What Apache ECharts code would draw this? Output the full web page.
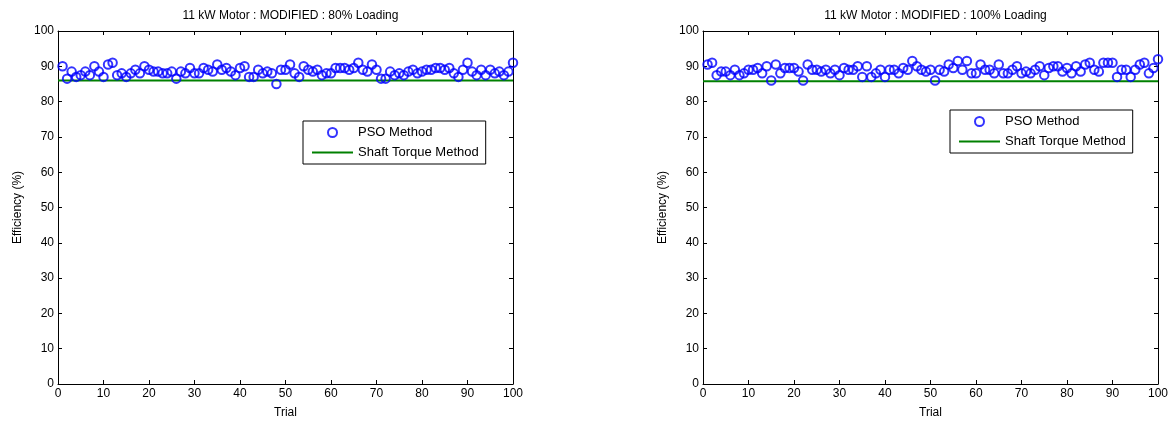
<!DOCTYPE html>
<html><head><meta charset="utf-8">
<script src="https://cdn.jsdelivr.net/npm/echarts@6/dist/echarts.min.js"></script>
<style>html,body{margin:0;padding:0;background:#fff}#c{width:1174px;height:426px}</style>
</head><body><div id="c"></div>
<script>
const titles = ['11 kW Motor : MODIFIED : 80% Loading', '11 kW Motor : MODIFIED : 100% Loading'];
const trials = Array.from({length: 100}, (_, i) => i + 1);
const pso80 = [90,86.5,88.5,87,87.5,88.5,87.5,90,88.5,87,90.5,91,87.5,88,87,88,89,88,90,89,
  88.5,88.5,88,88,88.5,86.5,88.5,88,89.5,88,88,89.5,89,88.5,90.5,89,89.5,88.5,87.5,89.5,
  90,87,87,89,88,88.5,88,85,89,89,90.5,88,87,90,89,88.5,89,87.5,88,88,
  89.5,89.5,89.5,89,89.5,91,89,88.5,90.5,89,86.5,86.5,88.5,87.5,88,87.5,88.5,89,88,88.5,
  89,89,89.5,89.5,89,89.5,88,87,89,91,88.5,87.5,89,87.5,89,88,88.5,87.5,88.5,91];
const pso100 = [90.5,91,87.5,88.5,88.5,87.5,89,87.5,88,89,89,89.5,88,90,86,90.5,88,89.5,89.5,89.5,
  88.5,86,90.5,89,89,88.5,89,88,89,87.5,89.5,89,89,90,87,90,87,88,89,87,
  89,89,88,89.5,89,91.5,90,89,88.5,89,86,89,88.5,90.5,89.5,91.5,89,91.5,88,88,
  90.5,89,89,88,90.5,88,88,89,90,88,88.5,88,89,90,87.5,89.5,90,90,88.5,89.5,
  88,90,88.5,90.5,91,89,88.5,91,91,91,87,89,89,87,89,90.5,91,88,89.5,92];
const shaft80 = 86;
const shaft100 = 85.8;

const font = 'Liberation Sans, Arial, sans-serif';
const chart = echarts.init(document.getElementById('c'));
const grids = [
  {left: 58, right: 661, top: 31, bottom: 42},
  {left: 703, right: 16, top: 31, bottom: 42}
];
const xAxes = [], yAxes = [], series = [], titleArr = [], legends = [];
const datasets = [[pso80, shaft80], [pso100, shaft100]];
const legendPos = [{left: 303, top: 121}, {left: 950, top: 110}];
grids.forEach((g, i) => {
  const base = {
    gridIndex: i, type: 'value', min: 0, max: 100, interval: 10,
    axisLine: {show: true, onZero: false, lineStyle: {color: '#000', width: 1}},
    axisTick: {show: true, inside: true, length: 4, lineStyle: {color: '#000'}},
    splitLine: {show: false},
    axisLabel: {color: '#000', fontFamily: font, fontSize: 12},
    nameTextStyle: {color: '#000', fontFamily: font, fontSize: 12}
  };
  xAxes.push(Object.assign({}, base, {position: 'bottom', name: 'Trial', nameLocation: 'middle', nameGap: 23,
    axisLabel: {color: '#000', fontFamily: font, fontSize: 12, margin: 4}}));
  xAxes.push(Object.assign({}, base, {position: 'top', axisLabel: {show: false}}));
  yAxes.push(Object.assign({}, base, {position: 'left', name: 'Efficiency (%)', nameLocation: 'middle', nameGap: 34,
    axisLabel: {color: '#000', fontFamily: font, fontSize: 12, margin: 4}}));
  yAxes.push(Object.assign({}, base, {position: 'right', axisLabel: {show: false}}));
  const pso = datasets[i][0], shaft = datasets[i][1];
  series.push({
    name: 'PSO Method', type: 'scatter', xAxisIndex: 2 * i, yAxisIndex: 2 * i,
    symbol: 'circle', symbolSize: 8.5,
    itemStyle: {color: 'rgba(255,255,255,0)', borderColor: '#0000ff', borderWidth: 2},
    data: trials.map((t, k) => [t, pso[k]]), z: 3
  });
  series.push({
    name: 'Shaft Torque Method', type: 'line', xAxisIndex: 2 * i, yAxisIndex: 2 * i,
    symbol: 'none', showSymbol: false, lineStyle: {color: '#008000', width: 2}, itemStyle: {color: '#008000'},
    data: [[0, shaft], [100, shaft]], z: 2
  });
  titleArr.push({
    text: titles[i], left: g.left + (1174 - g.left - g.right) / 2, top: 5, textAlign: 'center',
    textStyle: {fontFamily: font, fontSize: 12, fontWeight: 'normal', color: '#000'}
  });
  legends.push({
    left: legendPos[i].left, top: legendPos[i].top, orient: 'vertical',
    backgroundColor: '#fff', borderColor: '#000', borderWidth: 1, borderRadius: 0,
    padding: [4, 7, 4, 9], itemGap: 5, itemWidth: 41, itemHeight: 9,
    selectedMode: false,
    textStyle: {fontFamily: font, fontSize: 13, color: '#000', lineHeight: 15},
    data: [
      {name: 'PSO Method', icon: 'circle', itemStyle: {color: '#ffffff', borderColor: '#0000ff', borderWidth: 2}},
      {name: 'Shaft Torque Method', icon: 'path://M0,0 L41,0 L41,2 L0,2 Z', itemStyle: {color: '#008000', borderWidth: 0}}
    ]
  });
});
chart.setOption({
  animation: false,
  backgroundColor: '#fff',
  title: titleArr,
  legend: legends,
  grid: grids,
  xAxis: xAxes,
  yAxis: yAxes,
  series: series
});
</script></body></html>
